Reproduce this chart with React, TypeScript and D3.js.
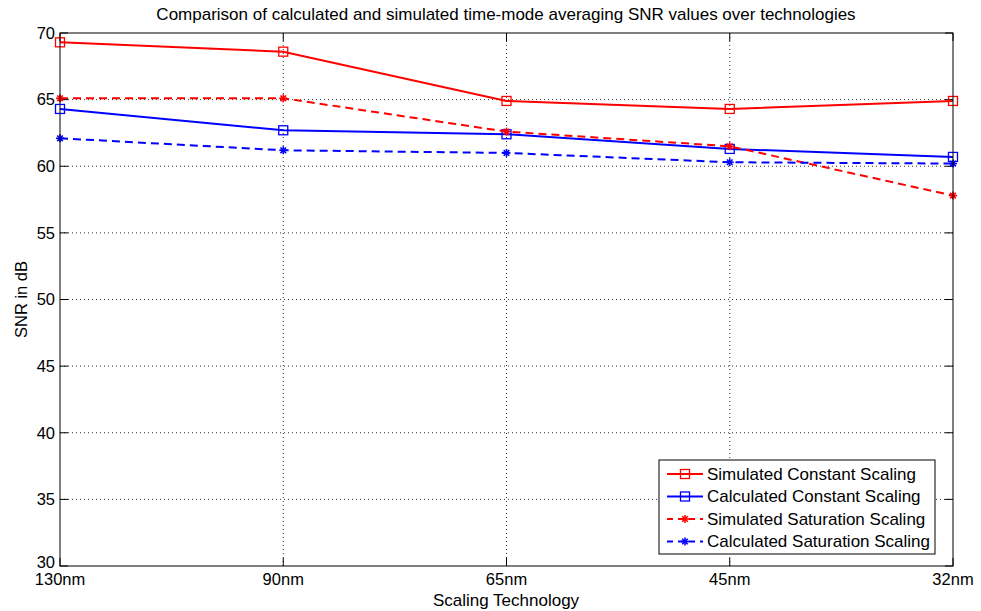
import * as d3 from 'd3';

const techs = ['130nm', '90nm', '65nm', '45nm', '32nm'];
const simConst = [69.3, 68.6, 64.9, 64.3, 64.9];
const calcConst = [64.3, 62.7, 62.4, 61.3, 60.7];
const simSat = [65.1, 65.1, 62.6, 61.5, 57.8];
const calcSat = [62.1, 61.2, 61.0, 60.3, 60.2];
const yTicks = [30, 35, 40, 45, 50, 55, 60, 65, 70];

const series = [
    { name: 'Simulated Constant Scaling', values: simConst, color: '#ff0000', dash: null, marker: 'square' },
    { name: 'Calculated Constant Scaling', values: calcConst, color: '#0000ff', dash: null, marker: 'square' },
    { name: 'Simulated Saturation Scaling', values: simSat, color: '#ff0000', dash: '8,5', marker: 'star' },
    { name: 'Calculated Saturation Scaling', values: calcSat, color: '#0000ff', dash: '8,5', marker: 'star' },
];

function Marker({ type, x, y, color }) {
    if (type === 'square') {
        return <rect x={x - 4.5} y={y - 4.5} width={9} height={9} fill="none" stroke={color} strokeWidth={1.3} />;
    }
    const r = 4;
    return (
        <g stroke={color} strokeWidth={1.6}>
            <line x1={x - r} y1={y} x2={x + r} y2={y} />
            <line x1={x} y1={y - r} x2={x} y2={y + r} />
            <line x1={x - 2.8} y1={y - 2.8} x2={x + 2.8} y2={y + 2.8} />
            <line x1={x - 2.8} y1={y + 2.8} x2={x + 2.8} y2={y - 2.8} />
        </g>
    );
}

export default function App() {
    const width = 981;
    const height = 611;
    const margin = { top: 33, right: 28, bottom: 45, left: 60 };
    const innerWidth = width - margin.left - margin.right;
    const innerHeight = height - margin.top - margin.bottom;

    const xScale = d3.scalePoint().domain(techs).range([0, innerWidth]);
    const yScale = d3.scaleLinear().domain([30, 70]).range([innerHeight, 0]);

    const line = d3
        .line<number>()
        .x((d, i) => xScale(techs[i]))
        .y((d) => yScale(d));

    const font = 'Arial, "Liberation Sans", Helvetica, sans-serif';

    return (
        <svg width={width} height={height} style={{ position: 'absolute', left: 0, top: 0 }} fontFamily={font}>
            <rect width={width} height={height} fill="#fff" />
            <text x={506} y={20} textAnchor="middle" fontSize={17}>
                Comparison of calculated and simulated time-mode averaging SNR values over technologies
            </text>
            <g transform={`translate(${margin.left}, ${margin.top})`}>
                {techs.map((t, i) =>
                    i > 0 && i < techs.length - 1 ? (
                        <line key={t} x1={xScale(t)} x2={xScale(t)} y1={0} y2={innerHeight} stroke="#333" strokeWidth={1} strokeDasharray="1,3" />
                    ) : null
                )}
                {yTicks.map((v) =>
                    v > 30 && v < 70 ? (
                        <line key={v} x1={0} x2={innerWidth} y1={yScale(v)} y2={yScale(v)} stroke="#333" strokeWidth={1} strokeDasharray="1,3" />
                    ) : null
                )}
                {yTicks.map((v) => (
                    <g key={'t' + v}>
                        <line x1={0} x2={8} y1={yScale(v)} y2={yScale(v)} stroke="#000" />
                        <line x1={innerWidth - 8} x2={innerWidth} y1={yScale(v)} y2={yScale(v)} stroke="#000" />
                        <text x={-5} y={yScale(v)} dy={v === 30 ? '0.1em' : '0.35em'} textAnchor="end" fontSize={16.5}>
                            {v}
                        </text>
                    </g>
                ))}
                {techs.map((t) => (
                    <g key={'x' + t}>
                        <line x1={xScale(t)} x2={xScale(t)} y1={innerHeight} y2={innerHeight - 8} stroke="#000" />
                        <line x1={xScale(t)} x2={xScale(t)} y1={0} y2={8} stroke="#000" />
                        <text x={xScale(t)} y={innerHeight + 19} textAnchor="middle" fontSize={16.5}>
                            {t}
                        </text>
                    </g>
                ))}
                {series.map((s) => (
                    <g key={s.name}>
                        <path d={line(s.values)} fill="none" stroke={s.color} strokeWidth={2} strokeDasharray={s.dash || undefined} />
                        {s.values.map((v, i) => (
                            <Marker key={i} type={s.marker} x={xScale(techs[i])} y={yScale(v)} color={s.color} />
                        ))}
                    </g>
                ))}
                <rect x={0} y={0} width={innerWidth} height={innerHeight} fill="none" stroke="#000" strokeWidth={1} />
                <g transform={`translate(${599}, ${427})`}>
                    <rect x={0} y={0} width={276} height={94} fill="#fff" stroke="#000" strokeWidth={1} />
                    {series.map((s, i) => {
                        const y = 14 + i * 22.5;
                        return (
                            <g key={'l' + s.name}>
                                <line x1={8} x2={44} y1={y} y2={y} stroke={s.color} strokeWidth={2} strokeDasharray={s.dash ? '6,5' : undefined} />
                                <Marker type={s.marker} x={26} y={y} color={s.color} />
                                <text x={48} y={y} dy="0.35em" fontSize={17}>
                                    {s.name}
                                </text>
                            </g>
                        );
                    })}
                </g>
            </g>
            <text x={506} y={606} textAnchor="middle" fontSize={17}>
                Scaling Technology
            </text>
            <text transform={`translate(27, ${margin.top + innerHeight / 2}) rotate(-90)`} textAnchor="middle" fontSize={16.5}>
                SNR in dB
            </text>
        </svg>
    );
}
